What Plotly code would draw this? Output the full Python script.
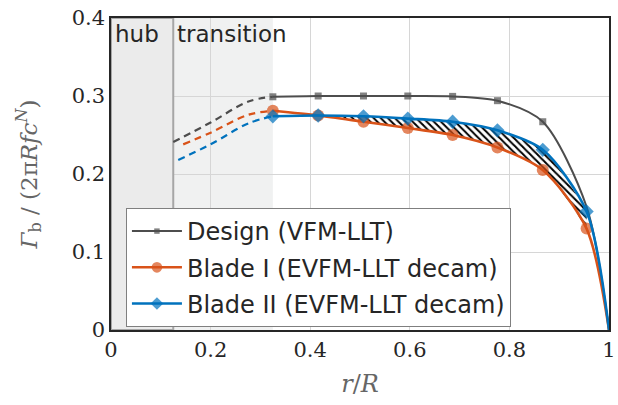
import plotly.graph_objects as go

# ---- data ----
r_main = [0.325, 0.416, 0.507, 0.596, 0.686, 0.776, 0.867, 0.955, 1.0]
design = [0.299, 0.300, 0.300, 0.300, 0.2995, 0.294, 0.267, 0.158, 0.0]
blade1 = [0.281, 0.275, 0.267, 0.259, 0.250, 0.234, 0.205, 0.130, 0.0]
blade2 = [0.274, 0.275, 0.274, 0.271, 0.267, 0.256, 0.231, 0.152, 0.0]

r_dash_design = [0.125, 0.2, 0.276, 0.325]
dash_design = [0.241, 0.266, 0.293, 0.299]
r_dash_b1 = [0.145, 0.2, 0.276, 0.325]
dash_b1 = [0.238, 0.253, 0.276, 0.281]
r_dash_b2 = [0.135, 0.2, 0.276, 0.325]
dash_b2 = [0.218, 0.238, 0.265, 0.274]

# hatched band between blade I and blade II
r_hatch = [0.416, 0.507, 0.596, 0.686, 0.776, 0.867, 0.955]
hatch_low = [0.275, 0.267, 0.259, 0.250, 0.234, 0.205, 0.130]
hatch_high = [0.275, 0.274, 0.271, 0.267, 0.256, 0.231, 0.152]

hub_range = [0.0, 0.125]
transition_range = [0.125, 0.325]

x_ticks = [0, 0.2, 0.4, 0.6, 0.8, 1.0]
x_ticktext = ["0", "0.2", "0.4", "0.6", "0.8", "1"]
y_ticks = [0, 0.1, 0.2, 0.3, 0.4]
y_ticktext = ["0", "0.1", "0.2", "0.3", "0.4"]

names = ["Design (VFM-LLT)", "Blade I (EVFM-LLT decam)", "Blade II (EVFM-LLT decam)"]

C_DES = "#4d4d4d"
C_B1 = "#d95319"
C_B2 = "#0072bd"
SANS = "DejaVu Sans, sans-serif"
SERIF = "DejaVu Serif, serif"

fig = go.Figure()

# hatch
fig.add_trace(go.Scatter(x=r_hatch, y=hatch_low, mode="lines",
                         line=dict(width=0, shape="spline", smoothing=0.8, color="rgba(0,0,0,0)"),
                         showlegend=False, hoverinfo="skip"))
fig.add_trace(go.Scatter(x=r_hatch, y=hatch_high, mode="lines",
                         line=dict(width=0, shape="spline", smoothing=0.8, color="rgba(0,0,0,0)"),
                         fill="tonexty", fillcolor="white",
                         fillpattern=dict(shape="\\", fgcolor="black", bgcolor="white",
                                          size=5, solidity=0.4),
                         showlegend=False, hoverinfo="skip"))

# dashed transition parts
for xs, ys, c in [(r_dash_design, dash_design, C_DES),
                  (r_dash_b1, dash_b1, C_B1),
                  (r_dash_b2, dash_b2, C_B2)]:
    fig.add_trace(go.Scatter(x=xs, y=ys, mode="lines",
                             line=dict(color=c, width=2.2, dash="7px,5px", shape="spline"),
                             showlegend=False, hoverinfo="skip"))

n = len(r_main)
des_sizes = [7] * 7 + [0, 0]
b_sizes_c = [12] * (n - 1) + [0]
b_sizes_d = [11] * (n - 1) + [0]

fig.add_trace(go.Scatter(x=r_main, y=design, name=names[0], mode="lines+markers",
                         line=dict(color=C_DES, width=2, shape="spline", smoothing=0.8),
                         marker=dict(symbol="square", size=des_sizes, color=C_DES,
                                     line=dict(width=0)),
                         legendgroup="a"))
fig.add_trace(go.Scatter(x=r_main, y=blade1, name=names[1], mode="lines+markers",
                         line=dict(color=C_B1, width=2.6, shape="spline", smoothing=0.8),
                         marker=dict(symbol="circle", size=b_sizes_c, color=C_B1,
                                     line=dict(width=0)),
                         legendgroup="b"))
fig.add_trace(go.Scatter(x=r_main, y=blade2, name=names[2], mode="lines+markers",
                         line=dict(color=C_B2, width=2.6, shape="spline", smoothing=0.8),
                         marker=dict(symbol="diamond", size=b_sizes_d, color=C_B2,
                                     line=dict(width=0)),
                         legendgroup="c"))

# regions
fig.add_shape(type="rect", xref="x", yref="y", x0=transition_range[0], x1=transition_range[1],
              y0=0, y1=0.4, fillcolor="#f0f1f1", line=dict(width=0), layer="below")
fig.add_shape(type="rect", xref="x", yref="y", x0=hub_range[0], x1=hub_range[1],
              y0=0, y1=0.4, fillcolor="#ebebeb", line=dict(color="#a6a6a6", width=2),
              layer="between")

fig.add_annotation(x=0.0, y=0.4, xref="x", yref="y", text="hub", showarrow=False,
                   xanchor="left", yanchor="top", xshift=2, yshift=-1,
                   font=dict(family=SANS, size=23, color="#262626"))
fig.add_annotation(x=0.125, y=0.4, xref="x", yref="y", text="transition", showarrow=False,
                   xanchor="left", yanchor="top", xshift=2, yshift=-1,
                   font=dict(family=SANS, size=23, color="#262626"))

fig.update_layout(
    width=618, height=405,
    margin=dict(l=111, r=9, t=18, b=75),
    paper_bgcolor="white", plot_bgcolor="white",
    template="none",
    showlegend=True,
    legend=dict(x=0.03, y=0.391, xanchor="left", yanchor="top",
                bgcolor="white", bordercolor="#7f7f7f", borderwidth=1,
                font=dict(family=SANS, size=24, color="#262626"),
                tracegroupgap=2, itemwidth=50),
    xaxis=dict(range=[0, 1], tickvals=x_ticks, ticktext=x_ticktext,
               showgrid=True, gridcolor="#d6d6d6", gridwidth=1,
               showline=True, linecolor="#262626", linewidth=1.5, mirror=True,
               ticks="", zeroline=False, ticklabeloverflow="allow",
               tickfont=dict(family=SERIF, size=21, color="#262626"),
               title=dict(text="<i>r</i>/<i>R</i>", standoff=14,
                          font=dict(family=SERIF, size=24, color="#666666"))),
    yaxis=dict(range=[0, 0.4], tickvals=y_ticks, ticktext=y_ticktext,
               showgrid=True, gridcolor="#d6d6d6", gridwidth=1,
               showline=True, linecolor="#262626", linewidth=1.5, mirror=True,
               ticks="", zeroline=False, ticklabeloverflow="allow",
               tickfont=dict(family=SERIF, size=21, color="#262626"),
               title=dict(text="<i>Γ</i><sub>b</sub> / (2π<i>Rfc</i><sup><i>N</i></sup>)",
                          standoff=28,
                          font=dict(family=SERIF, size=23, color="#666666"))),
)

# remove the default 8px page margin so the 618x405 figure fills the window exactly
fig.write_html("out.html", config={"displayModeBar": False},
               post_script="document.body.style.margin='0px';")
